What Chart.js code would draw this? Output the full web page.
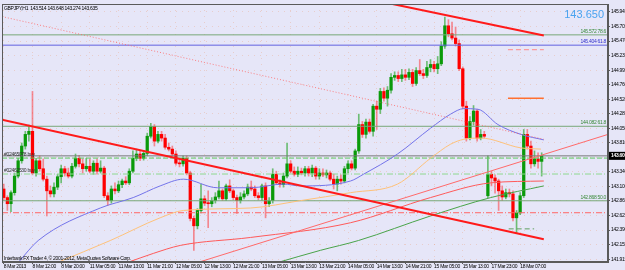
<!DOCTYPE html>
<html><head><meta charset="utf-8">
<script src="https://cdn.jsdelivr.net/npm/chart.js@4"></script>
<style>html,body{margin:0;padding:0;background:#E6E6F8;overflow:hidden}</style>
</head><body>
<canvas id="c" width="625" height="270"></canvas>
<script>
const FONT = "'Liberation Sans','DejaVu Sans',sans-serif";
const BG = '#E6E6F8';

const timeLabels = ["8 Mar 2013","8 Mar 12:00","8 Mar 20:00","11 Mar 05:00","11 Mar 13:00","11 Mar 21:00","12 Mar 05:00","12 Mar 13:00","12 Mar 21:00","13 Mar 05:00","13 Mar 13:00","13 Mar 21:00","14 Mar 05:00","14 Mar 13:00","14 Mar 21:00","15 Mar 05:00","15 Mar 13:00","17 Mar 23:00","18 Mar 07:00"];
const priceTicks = [145.945,145.705,145.470,145.235,144.995,144.760,144.520,144.285,144.050,143.810,143.575,143.340,143.100,142.865,142.625,142.390,142.155,141.915];

const opens = [143.06,142.92,142.82,143.00,143.27,143.52,143.76,143.95,144.00,143.32,
143.52,143.39,143.22,143.03,142.98,143.09,143.26,143.39,143.32,143.27,
143.43,143.56,143.47,143.39,143.43,143.35,143.48,143.35,143.40,142.95,
142.87,143.06,143.03,143.13,143.19,143.16,143.35,143.56,143.63,143.56,
143.64,143.92,144.08,143.84,143.95,143.89,143.74,143.71,143.63,143.48,
143.47,143.56,143.32,142.58,142.46,142.71,142.90,142.83,142.82,142.87,
142.93,143.03,142.90,143.11,143.03,142.92,142.87,142.93,142.98,143.09,
143.06,142.95,142.92,143.11,142.82,142.87,143.30,143.16,143.13,143.27,
143.47,143.35,143.30,143.35,143.32,143.39,143.32,143.40,143.27,143.32,
143.29,143.32,143.22,143.14,143.22,143.19,143.39,143.47,143.40,143.68,
144.11,143.95,144.15,144.00,144.41,144.36,144.65,144.54,144.67,144.88,
144.91,144.86,144.92,144.88,144.96,144.78,144.99,144.94,144.91,145.04,
145.09,145.02,145.10,145.39,145.72,145.59,145.52,145.43,145.02,144.41,
143.89,144.16,144.33,143.89,143.95,142.95,143.30,143.24,143.19,143.03,
142.93,143.00,142.98,142.59,142.67,142.95,143.95,143.76,143.47,143.55,
143.51];
const closes = [142.92,142.82,143.00,143.27,143.52,143.76,143.95,144.00,143.32,143.52,
143.39,143.22,143.03,142.98,143.09,143.26,143.39,143.32,143.27,143.43,
143.56,143.47,143.39,143.43,143.35,143.48,143.35,143.40,142.95,142.87,
143.06,143.03,143.13,143.19,143.16,143.35,143.56,143.63,143.56,143.64,
143.92,144.08,143.84,143.95,143.89,143.74,143.71,143.63,143.48,143.47,
143.56,143.32,142.58,142.46,142.71,142.90,142.83,142.82,142.87,142.93,
143.03,142.90,143.11,143.03,142.92,142.87,142.93,142.98,143.09,143.06,
142.95,142.92,143.11,142.82,142.87,143.30,143.16,143.13,143.27,143.47,
143.35,143.30,143.35,143.32,143.39,143.32,143.40,143.27,143.32,143.29,
143.32,143.22,143.14,143.22,143.19,143.39,143.47,143.40,143.68,144.11,
143.95,144.15,144.00,144.41,144.36,144.65,144.54,144.67,144.88,144.91,
144.86,144.92,144.88,144.96,144.78,144.99,144.94,144.91,145.04,145.09,
145.02,145.10,145.39,145.72,145.59,145.52,145.43,145.02,144.41,143.89,
144.16,144.33,143.89,143.95,143.92,143.30,143.24,143.19,143.03,142.93,
143.00,142.98,142.59,142.67,142.95,143.95,143.76,143.47,143.55,143.51,
143.60];
const highs = [143.14,142.95,143.03,143.32,143.56,143.81,144.00,144.10,144.65,143.56,
143.60,143.55,143.27,143.11,143.16,143.30,143.45,143.43,143.40,143.48,
143.63,143.61,143.55,143.56,143.55,143.52,143.55,143.52,143.43,143.00,
143.11,143.16,143.19,143.22,143.26,143.39,143.68,143.71,143.68,143.69,
143.97,144.13,144.11,144.00,144.00,143.95,143.81,143.76,143.68,143.55,
143.60,143.60,143.35,142.62,142.74,143.14,142.95,143.03,142.92,143.00,
143.19,143.06,143.14,143.21,143.06,142.96,143.00,143.03,143.14,143.19,
143.11,143.00,143.14,143.16,142.92,143.39,143.35,143.21,143.32,143.81,
143.52,143.42,143.42,143.40,143.43,143.43,143.45,143.43,143.39,143.39,
143.37,143.35,143.30,143.27,143.29,143.43,143.52,143.52,143.71,144.28,
144.16,144.20,144.20,144.44,144.49,144.70,144.71,144.73,144.94,144.97,
144.97,145.01,145.01,145.02,145.01,145.04,145.17,145.01,145.14,145.17,
145.14,145.22,145.46,145.86,145.82,145.78,145.70,145.49,145.05,144.49,
144.24,144.42,144.36,144.03,144.00,143.60,143.35,143.29,143.22,143.11,
143.06,143.06,143.03,142.71,143.00,144.03,144.03,143.84,143.68,143.65,
143.65];
const lows = [142.87,142.71,142.69,142.96,143.24,143.48,143.71,143.84,143.29,143.27,
143.35,143.19,142.62,142.93,142.93,143.05,143.16,143.27,143.24,143.24,
143.40,143.42,143.32,143.35,143.32,143.30,143.30,143.32,142.92,142.79,
142.83,142.98,143.00,143.08,143.13,143.13,143.32,143.52,143.52,143.53,
143.60,143.89,143.76,143.81,143.84,143.71,143.68,143.60,143.45,143.42,
143.43,143.29,142.54,142.06,142.41,142.67,142.79,142.43,142.77,142.83,
142.90,142.87,142.87,143.00,142.88,142.66,142.83,142.90,142.95,143.03,
142.92,142.88,142.87,142.59,142.77,142.83,143.13,143.09,143.09,143.24,
143.32,143.27,143.26,143.29,143.27,143.27,143.26,143.22,143.22,143.26,
143.24,143.19,143.06,143.03,143.14,143.16,143.32,143.37,143.37,143.64,
143.90,143.89,143.97,143.92,144.03,144.29,144.49,144.41,144.62,144.83,
144.81,144.81,144.83,144.84,144.73,144.75,144.91,144.86,144.88,144.97,
144.97,144.94,145.07,145.35,145.54,145.49,145.39,144.99,144.37,143.84,
143.86,144.10,143.84,143.86,143.89,142.92,143.11,142.99,142.71,142.87,
142.90,142.93,142.54,142.35,142.64,142.92,143.71,143.40,143.43,143.40,
143.27];

// moving averages: [bar index, price]
const maBlue = [[4.0,141.86],[9.6,142.22],[26.9,142.75],[36.1,142.92],[43.6,143.11],[50.1,143.22],[59.6,143.08],[68.8,143.08],[78.0,143.14],[82.7,143.11],[96.7,143.19],[100.3,143.30],[109.8,143.63],[119.0,144.05],[124.6,144.28],[128.3,144.37],[132.2,144.36],[137.8,144.11],[144.2,143.95],[150.6,143.86]];
const maOrange = [[14.9,141.86],[29.7,142.22],[43.6,142.59],[50.1,142.71],[68.8,142.75],[82.7,142.87],[96.7,143.00],[109.8,143.14],[119.0,143.56],[124.6,143.79],[128.3,143.87],[133.0,143.89],[144.2,143.73],[149.8,143.71]];
const maRed = [[34.4,141.86],[41.7,142.01],[49.2,142.14],[68.8,142.27],[96.7,142.51],[119.0,142.92],[135.8,143.16],[150.6,143.19]];
const maGreen = [[76.3,141.86],[88.3,142.06],[98.9,142.22],[119.0,142.62],[135.8,142.92],[150.6,143.11]];

// trend lines: two anchor points [bar index, price]
const trendDown = [[-0.5,144.19],[150.6,142.24]];
const trendTop = [[108.4,146.075],[150.6,145.56]];
const trendDotted = [[-0.5,145.87],[150.6,143.87]];
const trendUp = [[54.0,141.86],[168.5,143.95]];

const fibLevels = [145.572,145.404,144.082,142.868];
const fibPct = ['78.6','61.8','61.8','50.0'];
const orderLevels = [143.564,143.304];
const orderNames = ['#02465078 buy','#02462530 buy'];
const stopLevel = 142.673;
const shortLevels = [145.33,144.54,142.41];
const bid = 143.60;
const askText = '143.650';
const titleText = 'GBPJPY,H1  143.514 143.648 143.274 143.635';
const copyText = 'Interbank FX Trader 4, \u00A9 2001-2012, MetaQuotes Software Corp.';

const X_MIN = -0.5, X_MAX = 168.5;
const GREEN = '#0a9a0a', RED = '#ff0000';
const SPACING = '-0.3px';
const isUp = i => closes[i] >= opens[i];
const pts = arr => arr.map(([x, y]) => ({x, y}));
const hline = (v, x0 = X_MIN, x1 = X_MAX) => [{x: x0, y: v}, {x: x1, y: v}];
let ord = 1;
function lineDs(data, color, width, dash, smooth) {
  return {type: 'line', data, borderColor: color, borderWidth: width, borderDash: dash || [],
    pointRadius: 0, fill: false, tension: smooth ? 0.4 : 0, cubicInterpolationMode: smooth ? 'monotone' : 'default',
    order: ord++};
}

const datasets = [
  lineDs(pts(trendDown), '#ff1a1a', 2),
  lineDs(pts(trendTop), '#ff1a1a', 2),
  lineDs(pts(trendDotted), 'rgba(255,100,100,0.8)', 1, [1, 2]),
  lineDs(pts(trendUp), '#ff6a6a', 1),
  lineDs(pts(maBlue), '#7474ea', 1, null, true),
  lineDs(pts(maOrange), '#ffc27a', 1, null, true),
  lineDs(pts(maRed), '#ff5a5a', 1, null, true),
  lineDs(pts(maGreen), '#4aa44a', 1, null, true),
  lineDs(hline(fibLevels[0]), '#78a878', 1),
  lineDs(hline(fibLevels[1]), '#6262e0', 1),
  lineDs(hline(fibLevels[2]), '#78a878', 1),
  lineDs(hline(fibLevels[3]), '#78a878', 1),
  lineDs(hline(bid), '#7a7a7a', 1),
  lineDs(hline(orderLevels[0]), '#5ec85e', 1, [5, 2]),
  lineDs(hline(orderLevels[1]), '#8fd88f', 1, [6, 2, 1, 2]),
  lineDs(hline(stopLevel), '#ff6666', 1, [6, 2, 1, 2]),
  lineDs(hline(shortLevels[0], 140.6, 150.6), '#ff8a8a', 1, [5, 3]),
  lineDs(hline(shortLevels[1], 140.6, 150.6), '#ff7030', 1.5),
  lineDs(hline(shortLevels[2], 140.8, 147.9), '#60a060', 1, [5, 3]),
  {type: 'bar', data: opens.map((o, i) => ({x: i, y: [o, closes[i]]})),
    backgroundColor: c => isUp(c.dataIndex) ? GREEN : RED,
    barThickness: 2.6, grouped: false, minBarLength: 1, borderWidth: 0, order: 50},
  {type: 'bar', data: opens.map((o, i) => ({x: i, y: [lows[i], highs[i]]})),
    backgroundColor: c => isUp(c.dataIndex) ? 'rgba(10,154,10,0.55)' : 'rgba(255,40,40,0.5)',
    barThickness: 1, grouped: false, borderWidth: 0, order: 51}
];

const mt4 = {
  id: 'mt4',
  beforeDraw(chart) {
    const c = chart.ctx;
    c.fillStyle = BG; c.fillRect(0, 0, chart.width, chart.height);
    if ('letterSpacing' in c) c.letterSpacing = SPACING;
  },
  afterDraw(chart) {
    const {ctx, chartArea: a, scales: {y}} = chart;
    ctx.save();
    ctx.strokeStyle = '#5a5a5a'; ctx.lineWidth = 1;
    ctx.strokeRect(a.left + 0.5, a.top + 0.5, a.right - a.left - 1, a.bottom - a.top - 1);
    ctx.fillStyle = '#000'; ctx.font = '5px ' + FONT; ctx.textAlign = 'left';
    ctx.textBaseline = 'top'; ctx.fillText(titleText, a.left + 2, a.top + 2);
    ctx.textBaseline = 'bottom'; ctx.fillText(copyText, a.left + 2, a.bottom - 1);
    ctx.fillStyle = '#303030';
    orderLevels.forEach((v, k) => ctx.fillText(orderNames[k], a.left + 2, y.getPixelForValue(v) - 1));
    ctx.textAlign = 'right';
    const fc = ['#3a8a3a', '#3030d0', '#3a8a3a', '#3a8a3a'];
    fibLevels.forEach((v, k) => {
      ctx.fillStyle = fc[k];
      ctx.fillText(v.toFixed(3) + ' ' + fibPct[k], a.right - 2, y.getPixelForValue(v) - 1);
    });
    if ('letterSpacing' in ctx) ctx.letterSpacing = '0px';
    ctx.font = "11px 'Liberation Sans','DejaVu Sans',sans-serif"; ctx.fillStyle = '#4aa3f0';
    ctx.textBaseline = 'top'; ctx.fillText(askText, a.right - 4, a.top + 5);
    if ('letterSpacing' in ctx) ctx.letterSpacing = SPACING;
    const py = y.getPixelForValue(bid);
    ctx.fillStyle = '#000'; ctx.fillRect(a.right + 1, py - 4, chart.width - a.right - 1, 8);
    ctx.fillStyle = '#fff'; ctx.font = 'bold 5px ' + FONT; ctx.textAlign = 'left'; ctx.textBaseline = 'middle';
    ctx.fillText(bid.toFixed(3), a.right + 3, py);
    ctx.restore();
  }
};

new Chart(document.getElementById('c'), {
  type: 'bar',
  data: {datasets},
  plugins: [mt4],
  options: {
    responsive: false, animation: false, devicePixelRatio: 1,
    layout: {padding: {left: 2, top: 2, right: 0, bottom: 0}},
    plugins: {legend: {display: false}, tooltip: {enabled: false}},
    scales: {
      x: {type: 'linear', min: X_MIN, max: X_MAX, offset: false,
        afterBuildTicks: s => { s.ticks = timeLabels.map((_, k) => ({value: k * 8})); },
        afterFit: s => { s.height = 8; },
        ticks: {autoSkip: false, maxRotation: 0, align: 'start', padding: 0, color: '#000',
          font: {size: 5, family: FONT}, callback: v => timeLabels[Math.round(v / 8)] || ''},
        grid: {offset: false, color: 'rgba(235,140,90,0.28)', lineWidth: 1, tickLength: 2, tickColor: '#5a5a5a'},
        border: {display: true, color: '#5a5a5a', dash: [1, 5]}
      },
      y: {type: 'linear', position: 'right', min: 141.87, max: 146.075, beginAtZero: false,
        afterBuildTicks: s => { s.ticks = priceTicks.map(v => ({value: v})); },
        afterFit: s => { s.width = 17; },
        ticks: {autoSkip: false, padding: 1, color: '#000', font: {size: 5, family: FONT},
          callback: v => Number(v).toFixed(3)},
        grid: {color: 'rgba(235,140,90,0.28)', lineWidth: 1, tickLength: 2, tickColor: '#5a5a5a'},
        border: {display: true, color: '#5a5a5a', dash: [1, 5]}
      }
    }
  }
});
</script>
</body></html>
